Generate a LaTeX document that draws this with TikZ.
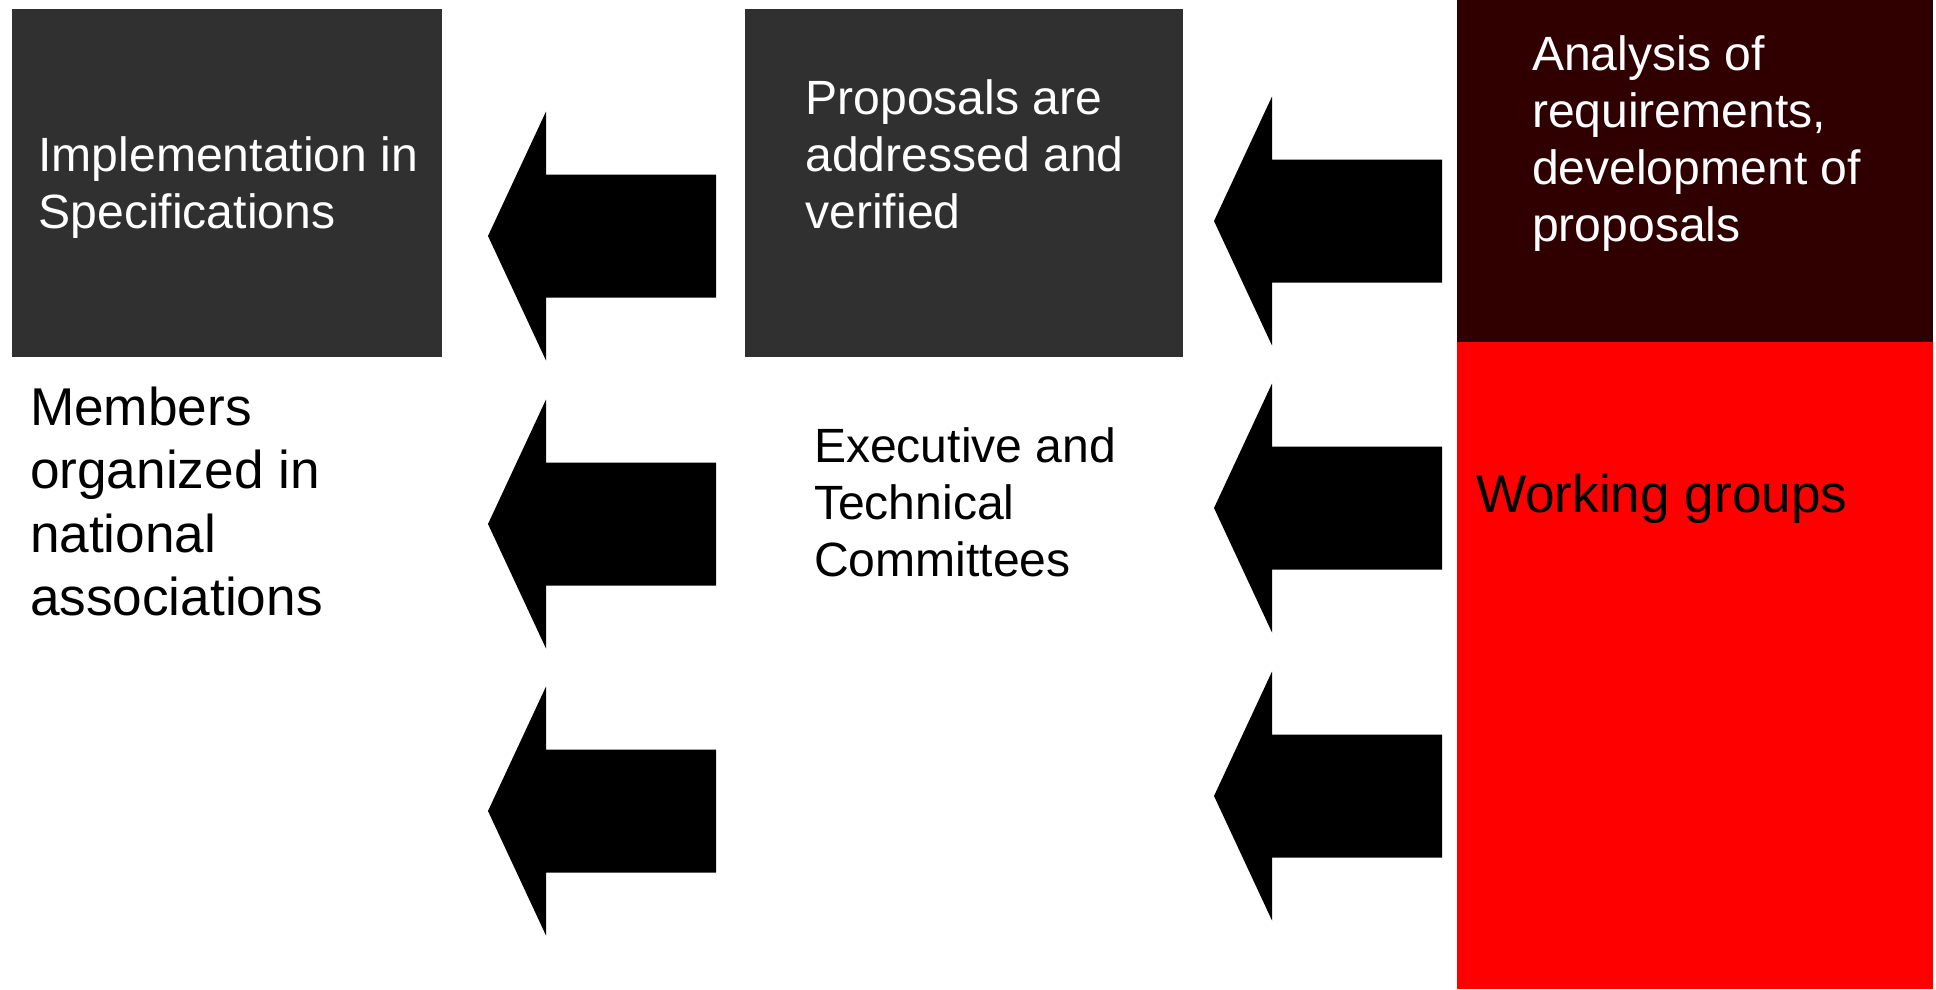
\documentclass[tikz,border=0pt]{standalone}
\usepackage{fontspec}
\setmainfont{Liberation Sans}
\definecolor{boxgray}{HTML}{303030}
\definecolor{boxmaroon}{HTML}{300000}
\definecolor{boxred}{HTML}{FF0000}
\newcommand{\lines}[1]{\begin{tabular}[t]{@{}l@{}}#1\end{tabular}}
\tikzset{
  panel/.style={fill=#1, draw=none, inner sep=0pt, outer sep=0pt, anchor=north west},
  smalltext/.style={anchor=base west, inner sep=0pt, outer sep=0pt, font=\fontsize{48.1}{57.3}\selectfont},
  bigtext/.style={anchor=base west, inner sep=0pt, outer sep=0pt, font=\fontsize{53.2}{63.5}\selectfont},
  blockarrow/.pic={
    \fill[black] (0,0) -- (58,-124.5) -- (58,-61.5) -- (228,-61.5) -- (228,61.5)
      -- (58,61.5) -- (58,124.5) -- cycle;
  }
}
\begin{document}
\begin{tikzpicture}[x=1pt,y=-1pt]
\useasboundingbox (0,0) rectangle (1936,989);
\fill[white] (0,0) rectangle (1936,989);
% panels
\node[panel=boxgray, minimum width=430pt, minimum height=348pt] (impl) at (12,9) {};
\node[panel=boxgray, minimum width=438pt, minimum height=348pt] (prop) at (745,9) {};
\node[panel=boxmaroon, minimum width=476pt, minimum height=342pt] (anal) at (1457,0) {};
\node[panel=boxred, minimum width=476pt, minimum height=647pt] (work) at (1457,342) {};
% texts
\node[smalltext, text=white] (impltext) at (38.5,171.5) {\lines{Implementation in\\Specifications}};
\node[smalltext, text=white] (proptext) at (805.5,114) {\lines{Proposals are\\addressed and\\verified}};
\node[smalltext, text=white] (analtext) at (1532,70) {\lines{Analysis of\\requirements,\\development of\\proposals}};
\node[bigtext, text=black] (members) at (30,425) {\lines{Members\\organized in\\national\\associations}};
\node[smalltext, text=black] (committees) at (814,462) {\lines{Executive and\\Technical\\Committees}};
\node[bigtext, text=black] (worktext) at (1476,512) {Working groups};
% arrows
\pic at (488,236) {blockarrow};
\pic at (488,524) {blockarrow};
\pic at (488,811) {blockarrow};
\pic at (1214,221) {blockarrow};
\pic at (1214,508) {blockarrow};
\pic at (1214,796) {blockarrow};
\end{tikzpicture}
\end{document}
